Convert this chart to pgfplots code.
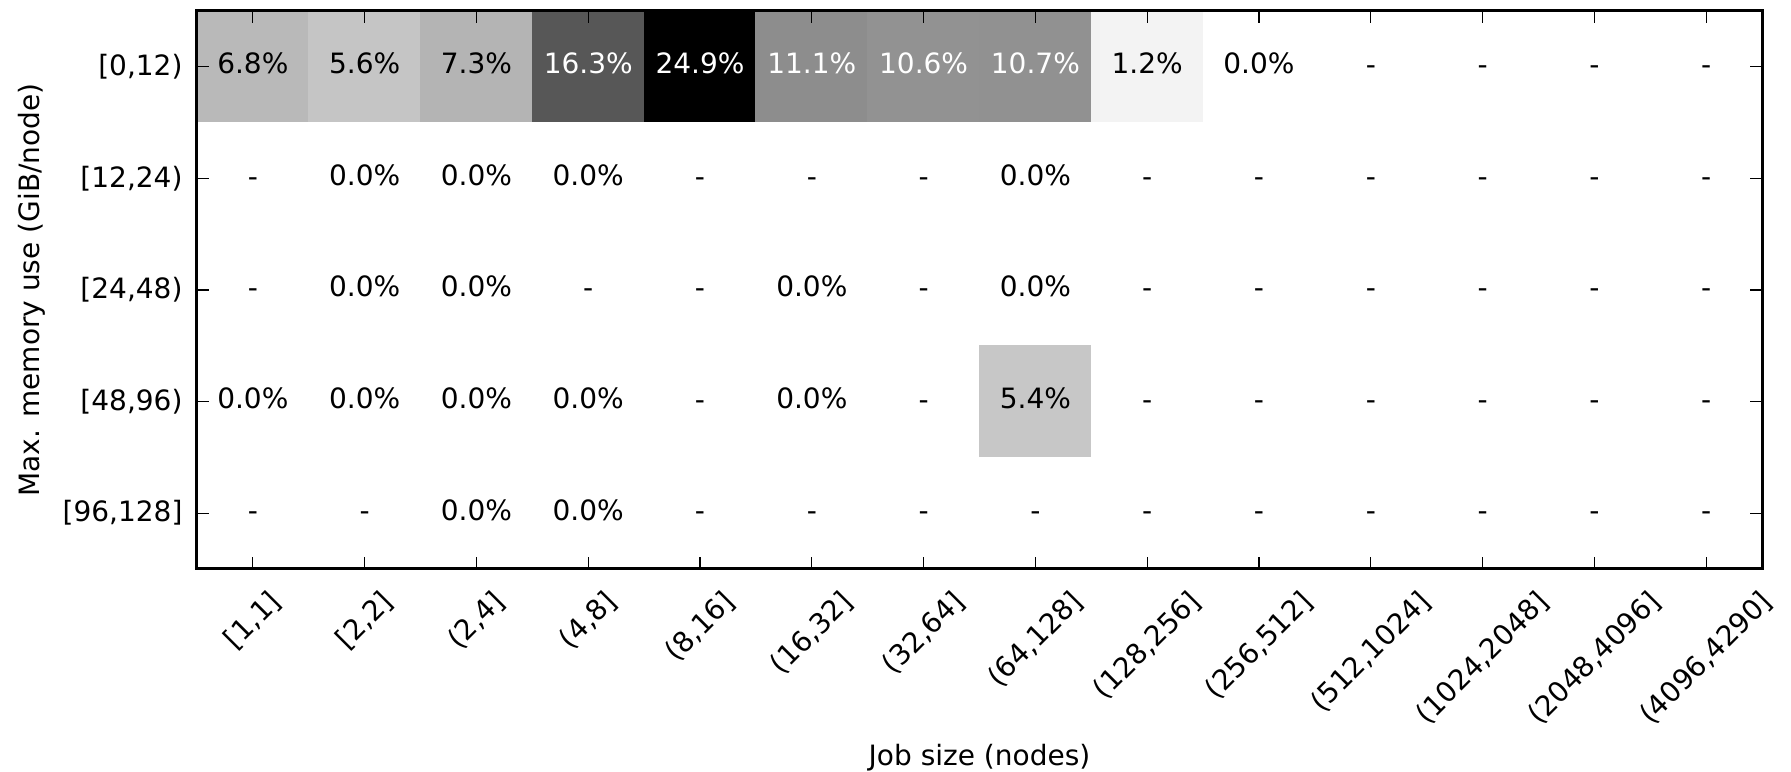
\documentclass[border=0pt]{standalone}
\usepackage{graphicx}
\usepackage{fontspec}
\setmainfont{DejaVu Sans}
\usepackage{pgfplots}
\pgfplotsset{compat=1.18}

% share of jobs per (job size, max memory) cell; row 0 = [0,12)
% cells without any job are stored as 0 (white) and labelled "-"
\newcommand{\rl}[1]{\rotatebox{45}{#1}}

\begin{document}
\fontsize{12}{14.4}\selectfont
\begin{tikzpicture}
\begin{axis}[
  scale only axis,
  width=670.7pt, height=239.1pt,
  xmin=-0.5, xmax=13.5, ymin=-0.5, ymax=4.5,
  y dir=reverse,
  axis on top,
  axis line style={line width=1.3pt},
  tick align=inside, tick pos=both,
  major tick length=5pt,
  every tick/.style={black, line width=0.5pt},
  xtick={0,...,13}, ytick={0,...,4},
  xticklabels={\rl{[1,1]},\rl{[2,2]},\rl{(2,4]},\rl{(4,8]},\rl{(8,16]},\rl{(16,32]},\rl{(32,64]},\rl{(64,128]},\rl{(128,256]},\rl{(256,512]},\rl{(512,1024]},\rl{(1024,2048]},\rl{(2048,4096]},\rl{(4096,4290]}},
  yticklabels={{[0,12)},{[12,24)},{[24,48)},{[48,96)},{[96,128]}},
  xticklabel style={anchor=north, inner sep=0pt, yshift=-8.1pt},
  yticklabel style={anchor=east, inner sep=0pt, xshift=-6pt},
  xlabel={Job size (nodes)},
  ylabel={Max. memory use (GiB/node)},
  every axis x label/.style={at={(axis description cs:0.5,0)}, anchor=north, yshift=-75pt, inner sep=0pt},
  every axis y label/.style={at={(axis description cs:0,0.5)}, xshift=-77pt, rotate=90, anchor=north, inner sep=0pt},
  colormap={grays}{color=(white) color=(black)},
  point meta min=0, point meta max=24.9,
  /pgf/number format/assume math mode=true,
]
% heat map cells
\addplot[matrix plot*, mesh/cols=14, point meta=explicit] table[meta=c] {
x y c
0 0 6.8
1 0 5.6
2 0 7.3
3 0 16.3
4 0 24.9
5 0 11.1
6 0 10.6
7 0 10.7
8 0 1.2
9 0 0
10 0 0
11 0 0
12 0 0
13 0 0
0 1 0
1 1 0
2 1 0
3 1 0
4 1 0
5 1 0
6 1 0
7 1 0
8 1 0
9 1 0
10 1 0
11 1 0
12 1 0
13 1 0
0 2 0
1 2 0
2 2 0
3 2 0
4 2 0
5 2 0
6 2 0
7 2 0
8 2 0
9 2 0
10 2 0
11 2 0
12 2 0
13 2 0
0 3 0
1 3 0
2 3 0
3 3 0
4 3 0
5 3 0
6 3 0
7 3 5.4
8 3 0
9 3 0
10 3 0
11 3 0
12 3 0
13 3 0
0 4 0
1 4 0
2 4 0
3 4 0
4 4 0
5 4 0
6 4 0
7 4 0
8 4 0
9 4 0
10 4 0
11 4 0
12 4 0
13 4 0
};
% percentages on dark cells
\addplot[draw=none, mark=none, point meta=explicit,
  nodes near coords={\pgfmathprintnumber[fixed,fixed zerofill,precision=1]{\pgfplotspointmeta}\%},
  nodes near coords align={center},
  every node near coord/.append style={text=white, inner sep=0pt, yshift=1.4pt}]
  table[meta=c] {
x y c
3 0 16.3
4 0 24.9
5 0 11.1
6 0 10.6
7 0 10.7
};
% percentages on light cells
\addplot[draw=none, mark=none, point meta=explicit,
  nodes near coords={\pgfmathprintnumber[fixed,fixed zerofill,precision=1]{\pgfplotspointmeta}\%},
  nodes near coords align={center},
  every node near coord/.append style={text=black, inner sep=0pt, yshift=1.4pt}]
  table[meta=c] {
x y c
0 0 6.8
1 0 5.6
2 0 7.3
8 0 1.2
9 0 0.0
1 1 0.0
2 1 0.0
3 1 0.0
7 1 0.0
1 2 0.0
2 2 0.0
5 2 0.0
7 2 0.0
0 3 0.0
1 3 0.0
2 3 0.0
3 3 0.0
5 3 0.0
7 3 5.4
2 4 0.0
3 4 0.0
};
% cells without jobs
\addplot[draw=none, mark=none,
  nodes near coords={-},
  nodes near coords align={center},
  every node near coord/.append style={text=black, inner sep=0pt, yshift=-1.4pt}]
  table {
x y
10 0
11 0
12 0
13 0
0 1
4 1
5 1
6 1
8 1
9 1
10 1
11 1
12 1
13 1
0 2
3 2
4 2
6 2
8 2
9 2
10 2
11 2
12 2
13 2
4 3
6 3
8 3
9 3
10 3
11 3
12 3
13 3
0 4
1 4
4 4
5 4
6 4
7 4
8 4
9 4
10 4
11 4
12 4
13 4
};
\end{axis}
% page margins around the axis box
\path ([xshift=-84.4pt,yshift=-87pt]current axis.south west)
      ([xshift=12.4pt,yshift=4.7pt]current axis.north east);
\end{tikzpicture}
\end{document}
